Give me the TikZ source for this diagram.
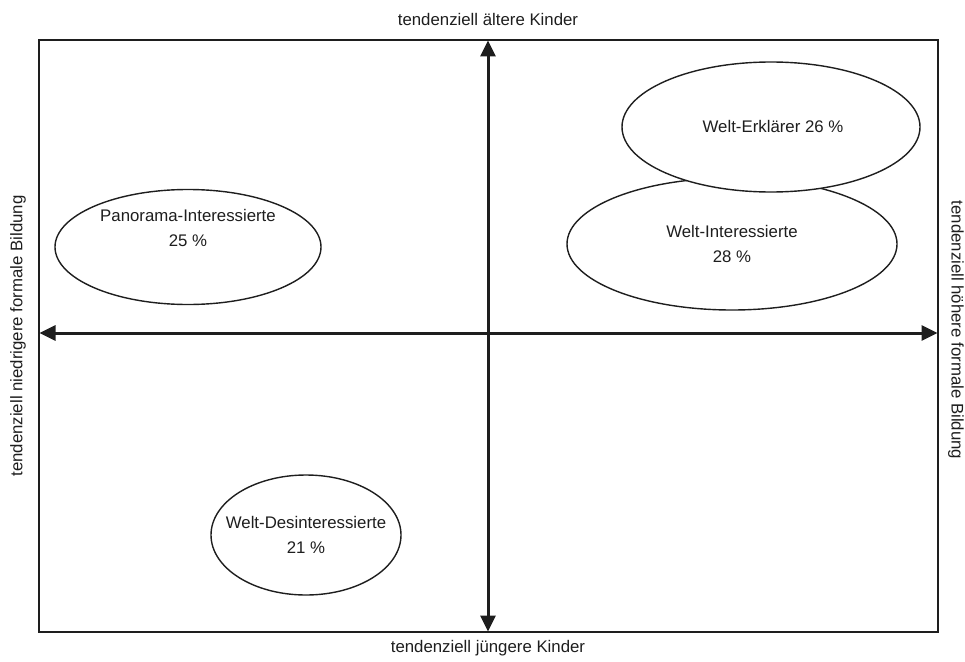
\documentclass[tikz,border=0pt]{standalone}
\usepackage{fontspec}
\setmainfont{Liberation Sans}
\usetikzlibrary{shapes.geometric,arrows.meta}
\definecolor{ink}{HTML}{1E1E1E}
\tikzset{
  ell/.style={ellipse,draw=ink,line width=1.4pt,fill=white,inner sep=0pt},
  lbl/.style={text=ink,font=\fontsize{16.8}{25}\selectfont,align=center,inner sep=0pt},
  axis/.style={draw=ink,line width=3pt,{Triangle[length=16pt,width=15pt]}-{Triangle[length=16pt,width=15pt]},shorten <=-0.5pt,shorten >=-0.5pt},
  frame/.style={draw=ink,line width=1.4pt}
}
\begin{document}
\begin{tikzpicture}[x=1pt,y=-1pt]
\useasboundingbox (0,0) rectangle (965,661);
\draw[frame] (39,40) rectangle (938,632);
\coordinate (vt) at (488,41);
\coordinate (vb) at (488,631);
\coordinate (hl) at (40,333);
\coordinate (hr) at (937,333);
\draw[axis] (vb) -- (vt);
\draw[axis] (hl) -- (hr);
% labels of the axes
\node[lbl] (ltop) at (488,19) {tendenziell ältere Kinder};
\node[lbl] (lbot) at (488,648) {tendenziell jüngere Kinder};
\node[lbl,rotate=90] (lleft) at (18,336) {tendenziell niedrigere formale Bildung};
\node[lbl,rotate=-90] (lright) at (956,330) {tendenziell höhere formale Bildung};
% ellipses
\node[ell,minimum width=266pt,minimum height=115pt] (pan) at (188,247) {};
\node[lbl] (pant) at (188,228) {Panorama-Interessierte\\25 \%};
\node[ell,minimum width=330pt,minimum height=132pt] (wi) at (732,244) {};
\node[lbl] (wit) at (732,244) {Welt-Interessierte\\28 \%};
\node[ell,minimum width=298pt,minimum height=130pt] (we) at (771,127) {};
\node[lbl] (wet) at (773,126) {Welt-Erklärer 26 \%};
\node[ell,minimum width=190pt,minimum height=120pt] (wd) at (306,535) {};
\node[lbl] (wdt) at (306,535) {Welt-Desinteressierte\\21 \%};
\end{tikzpicture}
\end{document}
